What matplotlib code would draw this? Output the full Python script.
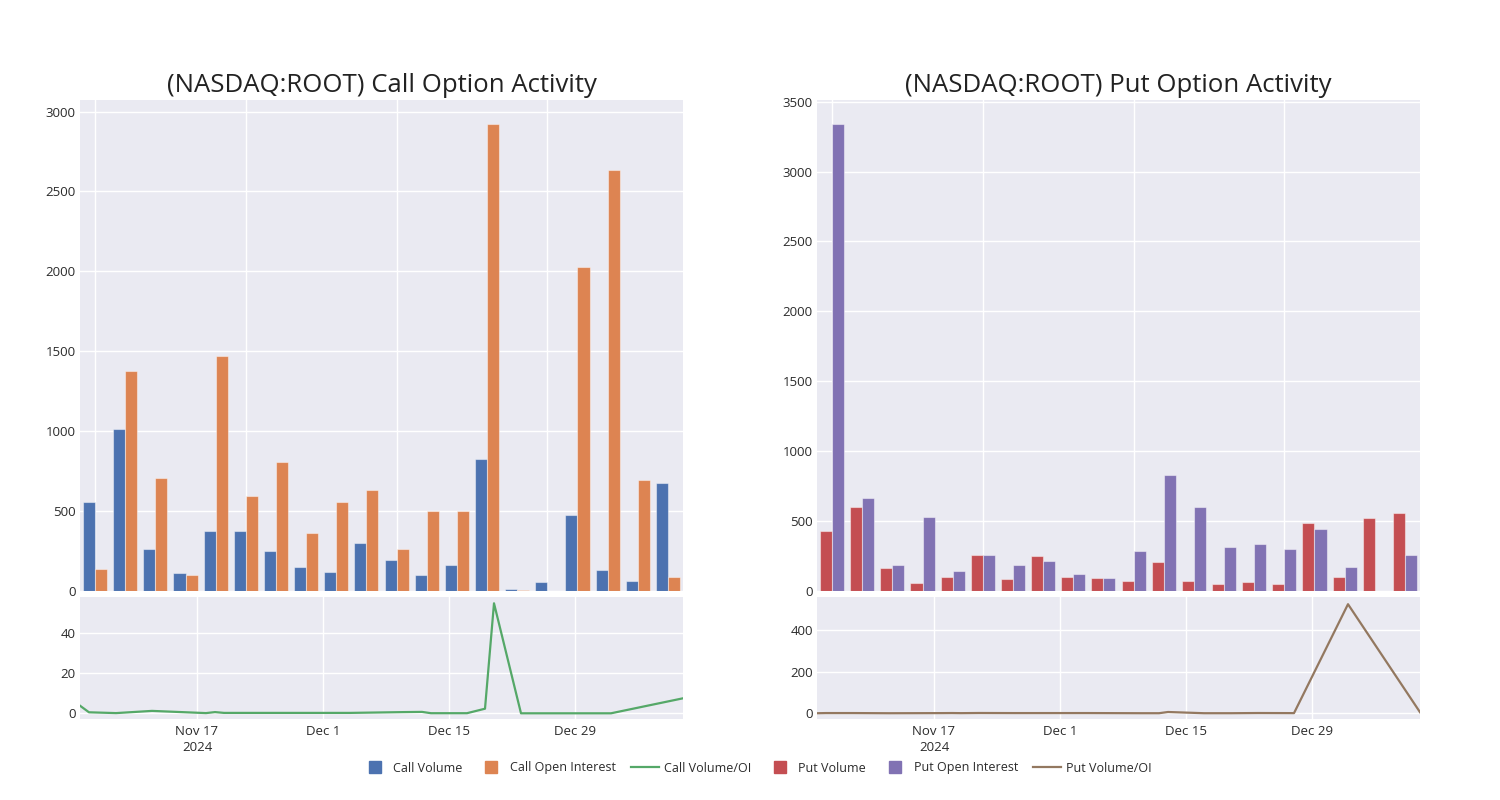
import matplotlib
matplotlib.use("Agg")
import matplotlib.pyplot as plt
from matplotlib.lines import Line2D
import numpy as np
import datetime as dt

plt.rcParams['font.family'] = ['Open Sans', 'DejaVu Sans']

# ---------------- data ----------------
dates = ["2024-11-04", "2024-11-05", "2024-11-08", "2024-11-12", "2024-11-18",
         "2024-11-19", "2024-11-20", "2024-11-22", "2024-11-26", "2024-12-04",
         "2024-12-10", "2024-12-12", "2024-12-13", "2024-12-17", "2024-12-19",
         "2024-12-20", "2024-12-23", "2024-12-27", "2025-01-02", "2025-01-10"]

call_volume = [554, 1011, 263, 109, 376, 376, 251, 148, 119, 299,
               192, 100, 161, 827, 10, 54, 476, 130, 61, 673]
call_oi = [134, 1377, 706, 96, 1469, 591, 806, 363, 554, 633,
           261, 499, 497, 2922, 4, 0, 2028, 2632, 696, 88]
call_vol_oi = [3.8, 0.5, 0.1, 1.2, 0.1, 0.6, 0.2, 0.2, 0.2, 0.2,
               0.6, 0.7, 0.05, 0.05, 2.3, 55, 0.0, 0.0, 0.0, 7.5]

put_volume = [425, 597, 162, 55, 98, 258, 84, 251, 98, 88,
              67, 205, 72, 50, 60, 48, 485, 95, 523, 556]
put_oi = [3339, 666, 186, 525, 141, 258, 184, 212, 117, 93,
          284, 828, 599, 313, 336, 301, 439, 169, 0, 258]
put_vol_oi = [0.1, 0.9, 0.9, 0.1, 0.7, 1.0, 0.5, 1.2, 0.8, 0.9,
              0.2, 0.2, 6, 0.2, 0.2, 0.2, 1.1, 0.6, 523, 5]

tick_dates = ["2024-11-17", "2024-12-01", "2024-12-15", "2024-12-29"]
tick_labels = ["Nov 17\n2024", "Dec 1", "Dec 15", "Dec 29"]

titles = ["(NASDAQ:ROOT) Call Option Activity", "(NASDAQ:ROOT) Put Option Activity"]

# ---------------- style ----------------
BG = "#EAEAF2"
TXT = "#2b2b2b"
C_BLUE, C_ORANGE, C_GREEN = "#4C72B0", "#DD8452", "#55A868"
C_RED, C_PURPLE, C_BROWN = "#C44E52", "#8172B3", "#937860"

W, H = 1500, 800
fig = plt.figure(figsize=(15, 8), dpi=100)
fig.patch.set_facecolor("white")


def ax_px(x0, y0, x1, y1):
    return fig.add_axes([x0 / W, 1 - y1 / H, (x1 - x0) / W, (y1 - y0) / H])


def style(ax):
    ax.set_facecolor(BG)
    for s in ax.spines.values():
        s.set_visible(False)
    ax.grid(True, color="white", linewidth=1.0)
    ax.set_axisbelow(True)
    ax.tick_params(length=0, labelsize=9.5, colors=TXT)
    ax.tick_params(axis="y", pad=3)
    ax.tick_params(axis="x", pad=4)


dts = [dt.datetime.strptime(d, "%Y-%m-%d") for d in dates]
tdts = [dt.datetime.strptime(d, "%Y-%m-%d") for d in tick_dates]

panels = [
    dict(x0=80, x1=683, vol=call_volume, oi=call_oi, ratio=call_vol_oi,
         c1=C_BLUE, c2=C_ORANGE, c3=C_GREEN, ytop=3073, yticks=np.arange(0, 3001, 500),
         rlim=(-3, 58.3), rticks=[0, 20, 40], title=titles[0]),
    dict(x0=817, x1=1420, vol=put_volume, oi=put_oi, ratio=put_vol_oi,
         c1=C_RED, c2=C_PURPLE, c3=C_BROWN, ytop=3512, yticks=np.arange(0, 3501, 500),
         rlim=(-29, 559), rticks=[0, 200, 400], title=titles[1]),
]

for p in panels:
    top = ax_px(p["x0"], 100, p["x1"], 590.7)
    style(top)
    n = len(p["vol"])
    idx = np.arange(n)
    bw = 0.4
    top.bar(idx - bw / 2, p["vol"], width=bw, color=p["c1"],
            edgecolor=(1, 1, 1, 0.45), linewidth=0.8)
    top.bar(idx + bw / 2, p["oi"], width=bw, color=p["c2"],
            edgecolor=(1, 1, 1, 0.45), linewidth=0.8)
    top.set_xlim(-0.5, n - 0.5)
    top.set_ylim(0, p["ytop"])
    top.set_xticks([0, 5, 10, 15])
    top.set_xticklabels([])
    top.set_yticks(p["yticks"])
    top.set_yticklabels([str(int(v)) for v in p["yticks"]])

    bot = ax_px(p["x0"], 596.7, p["x1"], 719.3)
    style(bot)
    bot.plot(dts, p["ratio"], color=p["c3"], linewidth=1.6)
    bot.set_xlim(dts[0], dts[-1])
    bot.set_ylim(*p["rlim"])
    bot.set_yticks(p["rticks"])
    bot.set_yticklabels([str(v) for v in p["rticks"]])
    bot.set_xticks(tdts)
    bot.set_xticklabels(tick_labels, linespacing=1.3)

    fig.text((p["x0"] + p["x1"]) / 2 / W, 1 - 85 / H, p["title"], ha="center",
             va="center", fontsize=18.5, color="#222222")

handles = [
    Line2D([], [], marker="s", linestyle="none", color=C_BLUE, markersize=9),
    Line2D([], [], marker="s", linestyle="none", color=C_ORANGE, markersize=9),
    Line2D([], [], color=C_GREEN, linewidth=1.6),
    Line2D([], [], marker="s", linestyle="none", color=C_RED, markersize=9),
    Line2D([], [], marker="s", linestyle="none", color=C_PURPLE, markersize=9),
    Line2D([], [], color=C_BROWN, linewidth=1.6),
]
labels = ["Call Volume", "Call Open Interest", "Call Volume/OI",
          "Put Volume", "Put Open Interest", "Put Volume/OI"]
leg = fig.legend(handles, labels, loc="center", bbox_to_anchor=(756 / W, 1 - 768 / H),
                 ncol=6, frameon=False, fontsize=9, handlelength=2.2,
                 handletextpad=0.4, columnspacing=1.2)
for t in leg.get_texts():
    t.set_color(TXT)

fig.savefig("out.png", dpi=100, facecolor="white")
